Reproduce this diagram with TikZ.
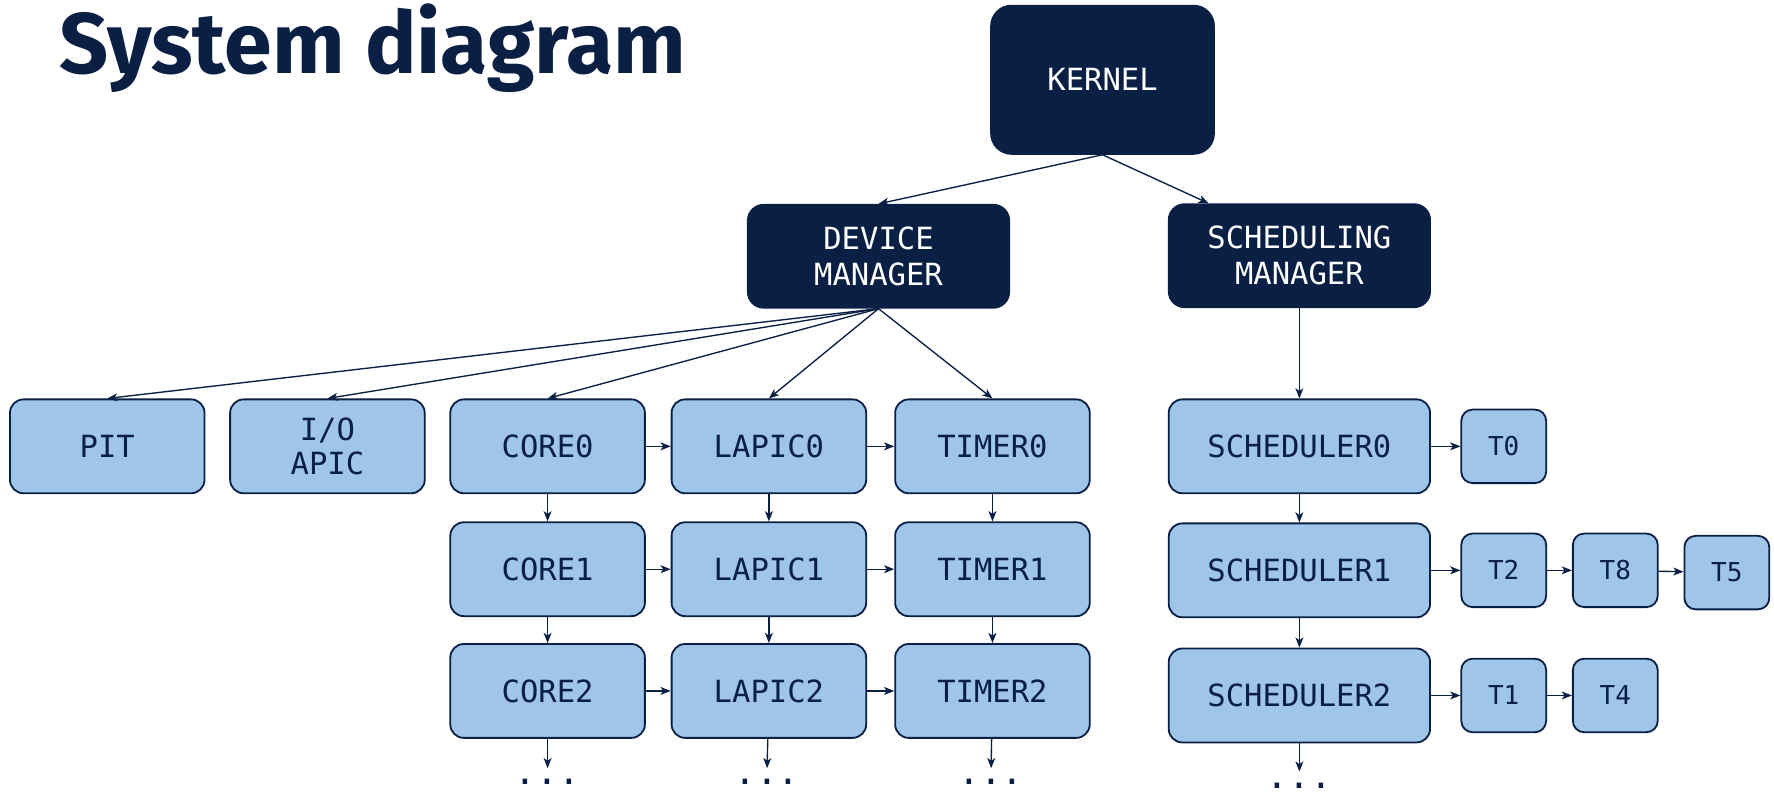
\documentclass[tikz,border=0pt]{standalone}
\usepackage{fontspec}
\setmainfont{Fira Sans}
\newfontfamily\boxfont{DejaVu Sans Mono}
\usetikzlibrary{positioning,arrows.meta}
\definecolor{navy}{HTML}{0A1F44}
\definecolor{paleblue}{HTML}{9FC5E8}
\tikzset{
  darkbox/.style={draw=navy, fill=navy, text=white, rounded corners=7pt, align=center,
    font=\boxfont\fontsize{13.5}{16}\selectfont, minimum width=115.5pt, minimum height=45.5pt,
    inner sep=0pt, line width=0.8pt},
  unit/.style={draw=navy, fill=paleblue, text=navy, rounded corners=6pt, align=center,
    font=\boxfont\fontsize{13.5}{15}\selectfont, minimum width=86pt, minimum height=41.5pt,
    inner sep=0pt, line width=0.8pt},
  sched/.style={unit, minimum width=115.5pt},
  task/.style={unit, minimum width=37.5pt, minimum height=32.5pt, rounded corners=5pt,
    font=\boxfont\fontsize{11.5}{13}\selectfont},
  link/.style={-{Stealth[length=4.5pt,width=3.5pt,inset=1.2pt]}, draw=navy, line width=0.6pt},
  more/.style={font=\boxfont\fontsize{16}{16}\selectfont, text=navy, anchor=base, inner sep=0pt}
}
\begin{document}
\begin{tikzpicture}[x=0.5pt, y=-0.5pt]
\useasboundingbox (0,0) rectangle (1568,702);
\node[anchor=base west, inner sep=0pt, text=navy, font=\bfseries\fontsize{38}{40}\selectfont] (title) at (52,65) {System diagram};

% managers
\node[darkbox, minimum width=98.5pt, minimum height=65.5pt, rounded corners=9pt] (kernel) at (974.5,70.5) {KERNEL};
\node[darkbox] (devman) at (776.5,226.5) {DEVICE\\MANAGER};
\node[darkbox] (schedman) at (1148.5,226) {SCHEDULING\\MANAGER};

% devices
\node[unit] (core0) at (484,394.5) {CORE0};
\node[unit, right = 11pt of core0] (lapic0) {LAPIC0};
\node[unit, right = 12pt of lapic0] (timer0) {TIMER0};
\node[unit, left = 10.5pt of core0] (ioapic) {I/O\\APIC};
\node[unit, left = 10.5pt of ioapic] (pit) {PIT};
\node[unit, below = 12pt of core0] (core1) {CORE1};
\node[unit, below = 12pt of lapic0] (lapic1) {LAPIC1};
\node[unit, below = 12pt of timer0] (timer1) {TIMER1};
\node[unit, below = 11.5pt of core1] (core2) {CORE2};
\node[unit, below = 11.5pt of lapic1] (lapic2) {LAPIC2};
\node[unit, below = 11.5pt of timer1] (timer2) {TIMER2};

% schedulers and tasks
\node[sched] (sched0) at (1148.5,394.5) {SCHEDULER0};
\node[sched, below = 12.5pt of sched0] (sched1) {SCHEDULER1};
\node[sched, below = 13pt of sched1] (sched2) {SCHEDULER2};
\node[task, right = 13pt of sched0] (t0) {T0};
\node[task, right = 13pt of sched1] (t2) {T2};
\node[task, right = 11pt of t2] (t8) {T8};
\node[task, right = 11pt of t8, yshift=-1pt] (t5) {T5};
\node[task, right = 13pt of sched2] (t1) {T1};
\node[task, right = 11pt of t1] (t4) {T4};

% continuation
\coordinate (coreend) at (484,679);
\coordinate (lapicend) at (678,679);
\coordinate (timerend) at (876,679);
\coordinate (schedend) at (1148.5,682);
\node[more] (coredots) at (484,693) {...};
\node[more] (lapicdots) at (678,693) {...};
\node[more] (timerdots) at (876,693) {...};
\node[more] (scheddots) at (1148.5,697) {...};

\draw[link] (kernel.south) -- (devman.north);
\draw[link] (kernel.south) -- (schedman.150);
\draw[link] (devman.south) -- (pit.north);
\draw[link] (devman.south) -- (ioapic.north);
\draw[link] (devman.south) -- (core0.north);
\draw[link] (devman.south) -- (lapic0.north);
\draw[link] (devman.south) -- (timer0.north);
\draw[link] (core0) -- (lapic0);
\draw[link] (lapic0) -- (timer0);
\draw[link] (core1) -- (lapic1);
\draw[link] (lapic1) -- (timer1);
\draw[link] (core2) -- (lapic2);
\draw[link] (lapic2) -- (timer2);
\draw[link] (core0) -- (core1);
\draw[link] (core1) -- (core2);
\draw[link] (core2) -- (coreend);
\draw[link] (lapic0) -- (lapic1);
\draw[link] (lapic1) -- (lapic2);
\draw[link] (lapic2) -- (lapicend);
\draw[link] (timer0) -- (timer1);
\draw[link] (timer1) -- (timer2);
\draw[link] (timer2) -- (timerend);
\draw[link] (schedman) -- (sched0);
\draw[link] (sched0) -- (sched1);
\draw[link] (sched1) -- (sched2);
\draw[link] (sched2) -- (schedend);
\draw[link] (sched0) -- (t0);
\draw[link] (sched1) -- (t2);
\draw[link] (t2) -- (t8);
\draw[link] (t8) -- (t5);
\draw[link] (sched2) -- (t1);
\draw[link] (t1) -- (t4);
\end{tikzpicture}
\end{document}
